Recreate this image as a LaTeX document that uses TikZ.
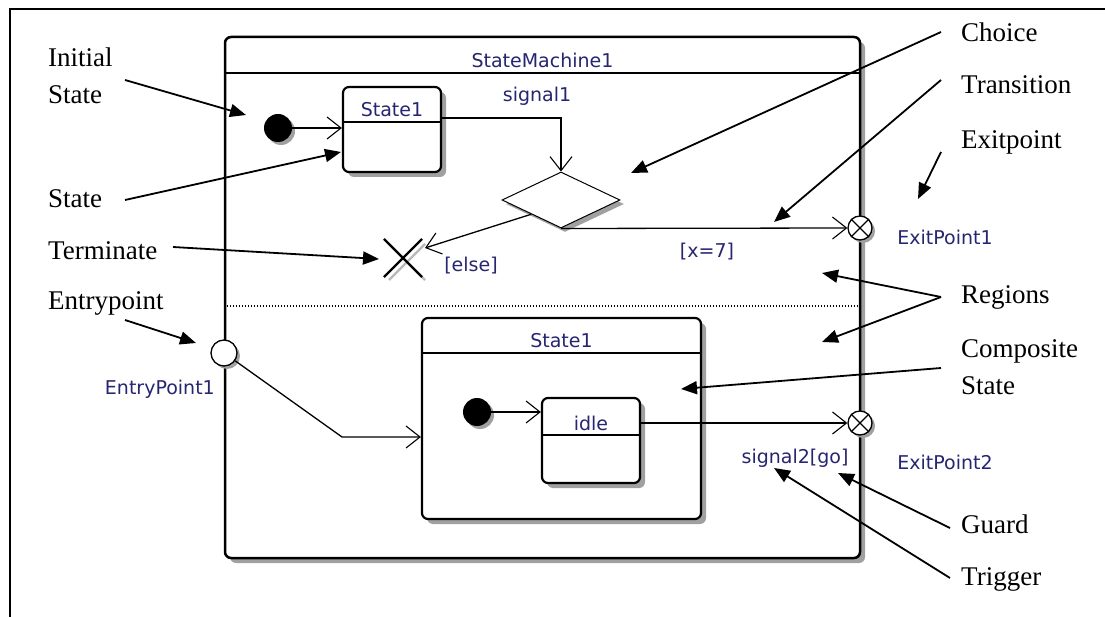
\documentclass[tikz,border=0pt]{standalone}
\usepackage{fontspec}
\setmainfont{Liberation Serif}
\newfontfamily\umlfam{DejaVu Sans}
\usetikzlibrary{arrows.meta,shapes.geometric,shapes.misc,shadows,calc}
\definecolor{umltext}{RGB}{38,38,112}
\definecolor{shade}{RGB}{160,160,160}
\definecolor{lightshade}{RGB}{185,185,185}
\begin{document}
\begin{tikzpicture}[x=1pt,y=-1pt,
  lbl/.style={font=\fontsize{27}{37}\selectfont, inner sep=0pt, anchor=base west, align=left},
  uml/.style={font=\umlfam\fontsize{19}{22}\selectfont, text=umltext, inner sep=0pt, anchor=base},
  ann/.style={line width=1.8pt, -{Triangle[length=16pt,width=13pt]}},
  trans/.style={line width=1.3pt, -{Straight Barb[length=14pt,width=22pt,line width=1.1pt]}},
  sbox/.style={draw, line width=2.2pt, rounded corners=6pt, fill=white, inner sep=0pt,
     drop shadow={shadow xshift=5pt, shadow yshift=-5pt, fill=shade, opacity=1}},
  dot/.style={circle, fill=black, minimum size=28pt, inner sep=0pt,
     drop shadow={shadow xshift=3pt, shadow yshift=-3pt, fill=shade, opacity=1}},
  xpoint/.style={circle, draw, fill=white, line width=1.3pt, minimum size=24pt, inner sep=0pt,
     drop shadow={shadow xshift=3pt, shadow yshift=-3pt, fill=shade, opacity=1}},
  divider/.style={line width=1.8pt}
]
\useasboundingbox (0,0) rectangle (1105,617);
% outer frame
\draw[line width=2pt] (10,617) -- (10,9) -- (1105,9);

% state machine
\node[sbox, line width=2.5pt, minimum width=635pt, minimum height=521pt] (sm) at (542.5,297.5) {};
\draw[divider] (sm.west |- 0,73) -- (sm.east |- 0,73);
\node[uml] (smt) at (542.5,68) {StateMachine1};
\draw[line width=1.2pt, dash pattern=on 1.2pt off 1.8pt] (sm.west |- 0,306) -- (sm.east |- 0,306);

% upper region
\node[dot] (init1) at (278,128) {};
\node[sbox, minimum width=98pt, minimum height=85pt] (s1) at (392,129.5) {};
\draw[divider] (s1.west |- 0,122) -- (s1.east |- 0,122);
\node[uml] (s1t) at (392,117) {State1};
\node[diamond, draw, line width=1pt, fill=white, minimum width=118pt, minimum height=56pt,
      inner sep=0pt, aspect=2.1,
      drop shadow={shadow xshift=4pt, shadow yshift=-4pt, fill=shade, opacity=1}] (choice) at (561,200) {};
\draw[lightshade, line width=2.2pt] (389,244) -- (425,280) (425,244) -- (389,280);
\node[cross out, draw, line width=2.2pt, minimum size=36pt, inner sep=0pt] (term) at (403,258) {};
\node[xpoint] (exit1) at (860,228) {};
\draw[line width=1.1pt] (exit1.45) -- (exit1.225) (exit1.135) -- (exit1.-45);

\draw[trans] (init1) -- (s1.west |- init1);
\draw[trans] (s1.east |- 0,118) -| (choice.north);
\draw[trans] (choice.south) -- (exit1.west);
\coordinate (elsetip) at (425,248);
\draw[trans] (choice.south west) -- (elsetip);
\node[uml] (lsig1) at (537,102) {signal1};
\node[uml] (lx7) at (707,258) {[x=7]};
\node[uml] (lelse) at (471,272) {[else]};
\node[uml] (lex1) at (945,245) {ExitPoint1};

% lower region
\node[xpoint, minimum size=26pt] (entry) at (224,353) {};
\node[sbox, minimum width=279pt, minimum height=201pt] (comp) at (561.5,418.5) {};
\draw[divider] (comp.west |- 0,353) -- (comp.east |- 0,353);
\node[uml] (compt) at (561.5,348) {State1};
\node[dot] (init2) at (477,412) {};
\node[sbox, minimum width=98pt, minimum height=85pt] (idle) at (591,440.5) {};
\draw[divider] (idle.west |- 0,435) -- (idle.east |- 0,435);
\node[uml] (idlet) at (591,430) {idle};
\node[xpoint] (exit2) at (860,423) {};
\draw[line width=1.1pt] (exit2.45) -- (exit2.225) (exit2.135) -- (exit2.-45);

\coordinate (ebend) at (342,437);
\draw[trans] (entry.-35) -- (ebend) -- (comp.west |- ebend);
\draw[trans] (init2) -- (idle.west |- init2);
\draw[trans] (idle.east |- exit2) -- (exit2.west);
\node[uml, anchor=base east] (lentry) at (215,394) {EntryPoint1};
\node[uml] (lsig2) at (795,463) {signal2[go]};
\node[uml] (lex2) at (945,469) {ExitPoint2};

% annotation labels
\node[lbl] (aInitial) at (48,104) {Initial\\State};
\node[lbl] (aState) at (48,208) {State};
\node[lbl] (aTerm) at (48,260) {Terminate};
\node[lbl] (aEntry) at (48,310) {Entrypoint};
\node[lbl] (aChoice) at (961,42) {Choice};
\node[lbl] (aTrans) at (961,94) {Transition};
\node[lbl] (aExit) at (961,149) {Exitpoint};
\node[lbl] (aRegions) at (961,304) {Regions};
\node[lbl] (aComp) at (961,394) {Composite\\State};
\node[lbl] (aGuard) at (961,533) {Guard};
\node[lbl] (aTrigger) at (961,585) {Trigger};

% annotation arrows
\coordinate (sInitial) at (125,80);   \coordinate (tInitial) at (246,115);
\coordinate (sState) at (125,200);    \coordinate (tState) at (341,152);
\coordinate (sTerm) at (173,247);     \coordinate (tTerm) at (379,259);
\coordinate (sEntry) at (125,320);    \coordinate (tEntry) at (196,343);
\coordinate (sChoice) at (941,32);    \coordinate (tChoice) at (631,173);
\coordinate (sTrans) at (941,80);     \coordinate (tTrans) at (774,222);
\coordinate (sExit) at (941,152);     \coordinate (tExit) at (918,199);
\coordinate (sRegions) at (941,297);  \coordinate (tRegA) at (822,273); \coordinate (tRegB) at (822,342);
\coordinate (sComp) at (941,368);     \coordinate (tComp) at (681,389);
\coordinate (sGuard) at (950,528);    \coordinate (tGuard) at (838,473);
\coordinate (sTrigger) at (950,578);  \coordinate (tTrigger) at (774,468);
\draw[ann] (sInitial) -- (tInitial);
\draw[ann] (sState) -- (tState);
\draw[ann] (sTerm) -- (tTerm);
\draw[ann] (sEntry) -- (tEntry);
\draw[ann] (sChoice) -- (tChoice);
\draw[ann] (sTrans) -- (tTrans);
\draw[ann] (sExit) -- (tExit);
\draw[ann] (sRegions) -- (tRegA);
\draw[ann] (sRegions) -- (tRegB);
\draw[ann] (sComp) -- (tComp);
\draw[ann] (sGuard) -- (tGuard);
\draw[ann] (sTrigger) -- (tTrigger);
\end{tikzpicture}
\end{document}
